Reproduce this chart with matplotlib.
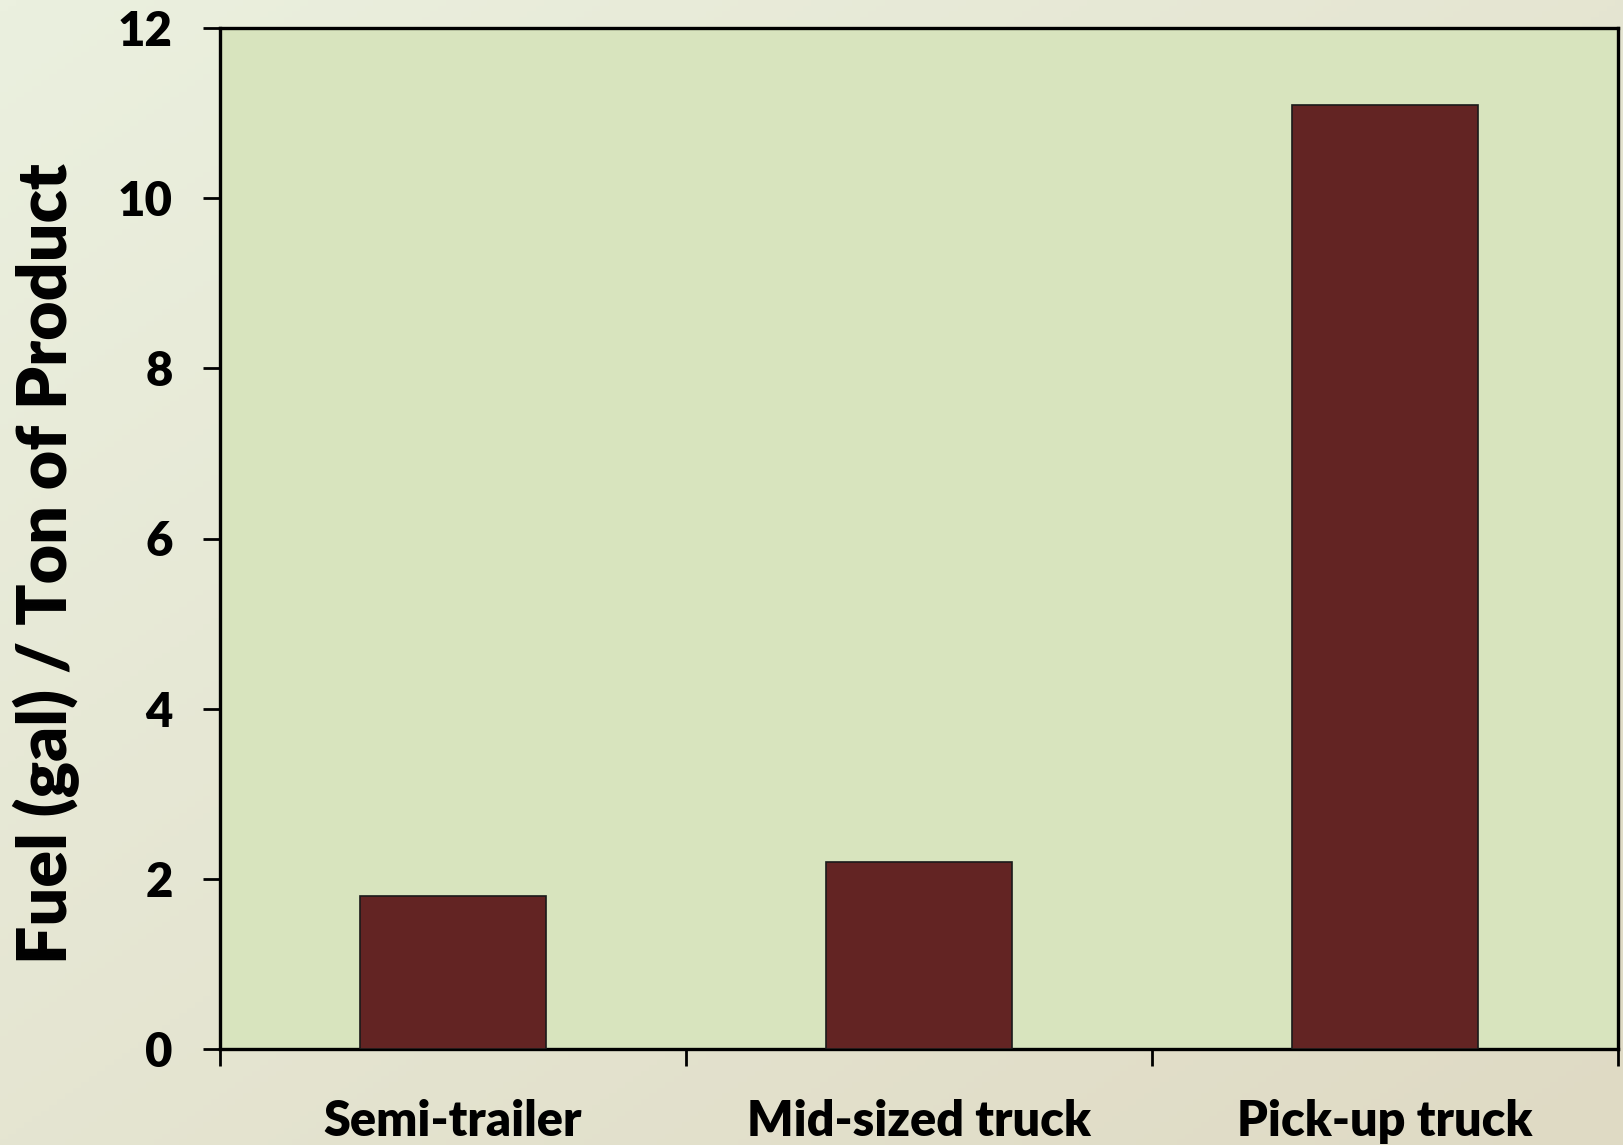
import matplotlib
matplotlib.use("Agg")
import matplotlib.pyplot as plt
import numpy as np
from matplotlib.colors import LinearSegmentedColormap

categories = ["Semi-trailer", "Mid-sized truck", "Pick-up truck"]
values = [1.8, 2.2, 11.1]
yticks = [0, 2, 4, 6, 8, 10, 12]

plt.rcParams['font.family'] = ['Lato', 'DejaVu Sans']
plt.rcParams['font.weight'] = 'bold'
FW = 'heavy'

W, H = 1623, 1145
fig = plt.figure(figsize=(W/100, H/100), dpi=100)

# gradient background
bg = fig.add_axes([0, 0, 1, 1], zorder=-10)
xx, yy = np.meshgrid(np.linspace(0, 1, 200), np.linspace(0, 1, 200))
t = (xx + yy) / 2
cmap = LinearSegmentedColormap.from_list("bg", ["#EBF0DF", "#DFDAC4"])
bg.imshow(t, cmap=cmap, extent=[0, 1, 0, 1], aspect='auto', origin='upper')
bg.axis('off')

left, right, top, bottom = 220, 1618, 28, 1049
ax = fig.add_axes([left/W, 1 - bottom/H, (right-left)/W, (bottom-top)/H])
ax.set_facecolor("#D8E4BE")

x = np.arange(len(categories))
ax.bar(x, values, width=0.4, color="#632423", edgecolor="#1a1a1a", linewidth=1.2, zorder=3)

ax.set_xlim(-0.5, len(categories) - 0.5)
ax.set_ylim(0, 12)
ax.set_yticks(yticks)
ax.set_yticklabels([str(v) for v in yticks], fontsize=34, fontweight=FW)
ax.set_xticks(x)
ax.set_xticklabels(categories, fontsize=35, fontweight=FW)
ax.tick_params(axis='x', length=0, pad=36)
ax.set_xticks(np.arange(len(categories) + 1) - 0.5, minor=True)
ax.tick_params(axis='x', which='minor', length=12, width=2, direction='out')
ax.tick_params(axis='y', length=12, width=2, direction='out', pad=22)

for s in ax.spines.values():
    s.set_linewidth(2.4)
    s.set_color('black')

fig.text(46/W, 1 - 564/H, "Fuel (gal) / Ton of Product", rotation=90,
         fontsize=49, fontweight=FW, ha='center', va='center')

fig.savefig("out.png", dpi=100)
